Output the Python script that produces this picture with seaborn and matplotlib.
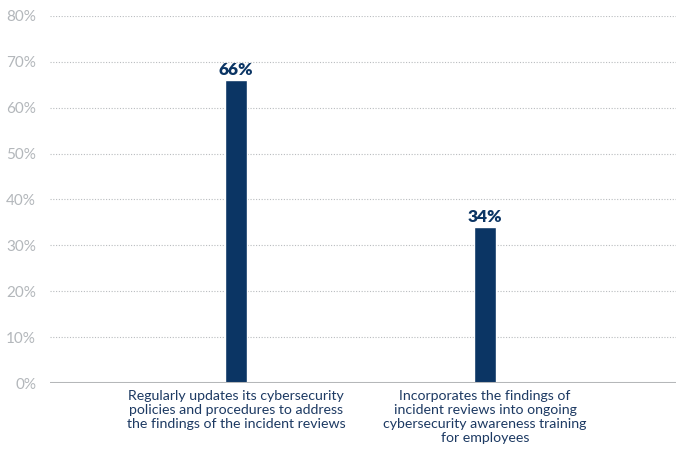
import matplotlib
matplotlib.use("Agg")
import matplotlib.pyplot as plt
import seaborn as sns
import pandas as pd

categories = [
    "Regularly updates its cybersecurity\npolicies and procedures to address\nthe findings of the incident reviews",
    "Incorporates the findings of\nincident reviews into ongoing\ncybersecurity awareness training\nfor employees",
]
values = [66, 34]
y_ticks = [0, 10, 20, 30, 40, 50, 60, 70, 80]
y_tick_labels = [f"{t}%" for t in y_ticks]

navy = "#0b3564"
grey_text = "#b3b7bb"

sns.set_style("white")
plt.rcParams["font.family"] = ["Lato", "DejaVu Sans"]

df = pd.DataFrame({"category": categories, "value": values})

fig = plt.figure(figsize=(6.76, 4.65), dpi=100)
ax = fig.add_axes([0.074, 0.176, 0.926, 0.79])

sns.barplot(data=df, x="category", y="value", color=navy, width=0.088,
            saturation=1, ax=ax, zorder=3)

ax.set_ylim(0, 80)
ax.set_xlim(-0.747, 1.767)
ax.set_yticks(y_ticks)
ax.set_yticklabels(y_tick_labels, color=grey_text, fontsize=11)
ax.tick_params(axis="y", length=0, pad=10)
ax.tick_params(axis="x", length=0, pad=5)
for lbl in ax.get_xticklabels():
    lbl.set_color("#1d3a63")
    lbl.set_fontsize(10.2)
    lbl.set_linespacing(1.2)
ax.set_xlabel("")
ax.set_ylabel("")

for t in y_ticks[1:]:
    ax.axhline(t, color="#b9bcbf", linestyle=(0, (1, 1.5)), linewidth=0.8, zorder=1)
ax.axhline(0, color="#b5b7b9", linewidth=2.2, zorder=4)

for spine in ax.spines.values():
    spine.set_visible(False)

for i, v in enumerate(values):
    ax.text(i, v + 0.5, f"{v}%", ha="center", va="bottom", color=navy,
            fontsize=12.5, fontweight="heavy")

fig.savefig("out.png", dpi=100)
